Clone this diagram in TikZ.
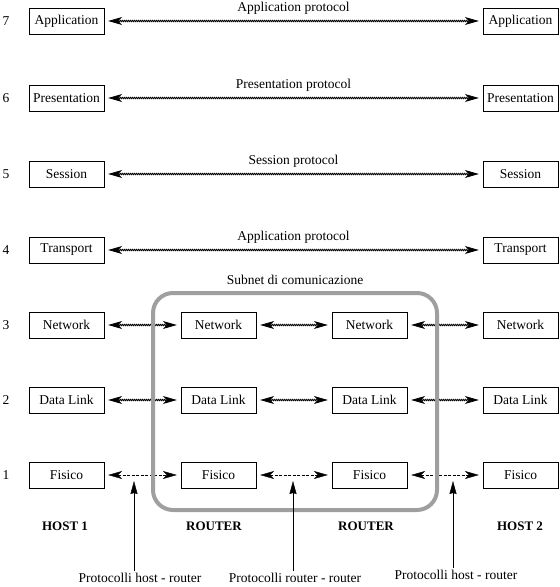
\documentclass[tikz,border=0pt]{standalone}
\usepackage{fontspec}
\setmainfont{Liberation Serif}
\usetikzlibrary{arrows.meta,decorations.pathmorphing}

\begin{document}
\begin{tikzpicture}[x=1pt, y=-1pt,
    >={Stealth[length=14pt,width=8pt,inset=4pt]},
    txt/.style={font=\fontsize{13.5}{15}\selectfont},
    hdr/.style={font=\fontsize{13}{15}\selectfont\bfseries},
    layerbox/.style={draw, fill=white, txt, minimum width=75pt, minimum height=26pt, inner sep=0pt},
    peer/.style={<->, line width=0.8pt, shorten <=4pt, shorten >=4pt, decorate,
        decoration={zigzag, amplitude=0.7pt, segment length=2pt, pre length=14pt, post length=14pt}},
    phys/.style={<->, thin, dash pattern=on 3pt off 1.5pt, shorten <=4pt, shorten >=4pt},
    marker/.style={-{Stealth[length=13pt,width=7pt,inset=1pt]}, thin}]
    % --- 1. Frame ---
    \useasboundingbox (0,0) rectangle (560,587);
    \def\colL{66.5}
    \def\colRa{218.5}
    \def\colRb{369.5}
    \def\colR{520.5}
    % --- 2. Layer numbers and end system boxes ---
    \foreach \n/\lbl/\y in {7/Application/21, 6/Presentation/98, 5/Session/174,
        4/Transport/250, 3/Network/325, 2/Data Link/400, 1/Fisico/475} {
        \node[txt] (num-\n) at (6,\y) {\n};
        \node[layerbox] (hA-\n) at (\colL,\y) {\lbl};
        \node[layerbox] (hB-\n) at (\colR,\y) {\lbl};
    }
    % --- 3. Router boxes ---
    \foreach \n/\lbl/\y in {3/Network/325, 2/Data Link/400, 1/Fisico/475} {
        \node[layerbox] (rA-\n) at (\colRa,\y) {\lbl};
        \node[layerbox] (rB-\n) at (\colRb,\y) {\lbl};
    }
    % --- 4. Peer protocols ---
    \draw[peer] (hA-7) -- (hB-7) node[midway, above=3pt, txt] (p7) {Application protocol};
    \draw[peer] (hA-6) -- (hB-6) node[midway, above=3pt, txt] (p6) {Presentation protocol};
    \draw[peer] (hA-5) -- (hB-5) node[midway, above=3pt, txt] (p5) {Session protocol};
    \draw[peer] (hA-4) -- (hB-4) node[midway, above=3pt, txt] (p4) {Application protocol};
    \foreach \n in {3,2} {
        \draw[peer] (hA-\n) -- (rA-\n);
        \draw[peer] (rA-\n) -- (rB-\n);
        \draw[peer] (rB-\n) -- (hB-\n);
    }
    \draw[phys] (hA-1) -- (rA-1);
    \draw[phys] (rA-1) -- (rB-1);
    \draw[phys] (rB-1) -- (hB-1);
    % --- 5. Subnet ---
    \draw[line width=4pt, gray!75, rounded corners=20pt] (153,293) rectangle (437,510);
    \node[txt] (subnet) at (295,280) {Subnet di comunicazione};
    % --- 6. Device names ---
    \node[hdr] (host1) at (65,526) {HOST 1};
    \node[hdr] (router1) at (214,526) {ROUTER};
    \node[hdr] (router2) at (366,526) {ROUTER};
    \node[hdr] (host2) at (520,526) {HOST 2};
    % --- 7. Pointers ---
    \node[txt, inner sep=1pt] (protA) at (140,578) {Protocolli host - router};
    \node[txt, inner sep=1pt] (protB) at (295,578) {Protocolli router - router};
    \node[txt, inner sep=1pt] (protC) at (456,575) {Protocolli host - router};
    \coordinate (tipA) at (134,481);
    \coordinate (tipB) at (293,481);
    \coordinate (tipC) at (453,481);
    \draw[marker] (protA.north -| tipA) ++(0,-1) -- (tipA);
    \draw[marker] (protB.north -| tipB) ++(0,-1) -- (tipB);
    \draw[marker] (protC.north -| tipC) ++(0,-1) -- (tipC);
\end{tikzpicture}
\end{document}
